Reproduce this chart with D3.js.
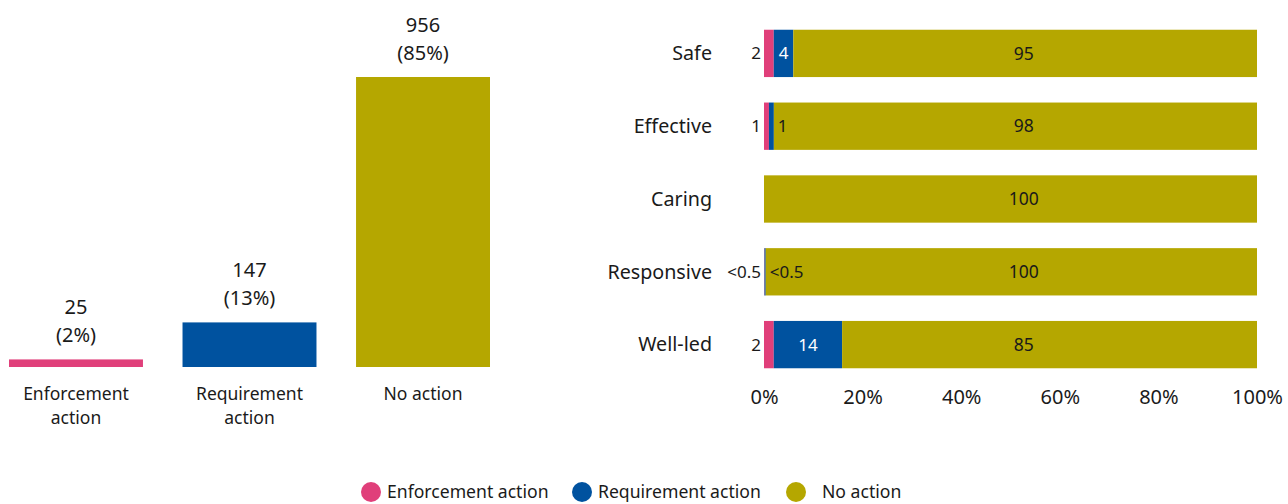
<!DOCTYPE html>
<html>
<head>
<meta charset="utf-8">
<script src="https://cdn.jsdelivr.net/npm/d3@7"></script>
<style>
  body { margin: 0; background: #fff; }
  text { font-family: "Noto Sans", sans-serif; fill: #1a1a1a; }
</style>
</head>
<body>
<div id="chart"></div>
<script>
// Data
const actionLabels = ["Enforcement action", "Requirement action", "No action"];
const actionCounts = [25, 147, 956];
const actionPercents = ["2%", "13%", "85%"];

const domains = ["Safe", "Effective", "Caring", "Responsive", "Well-led"];
const enforcementVals = [2, 1, 0, 0.1, 2];
const requirementVals = [4, 1, 0, 0.25, 14];
const noActionVals = [95, 98, 100, 100, 85];
const enforcementText = ["2", "1", "", "<0.5", "2"];
const requirementText = ["4", "1", "", "<0.5", "14"];
const noActionText = ["95", "98", "100", "100", "85"];
const xTicks = [0, 0.2, 0.4, 0.6, 0.8, 1];

const colors = ["#e03f7a", "#00529f", "#b5a700"];

const svgWidth = 1288;
const svgHeight = 504;

const svg = d3.select("#chart")
    .append("svg")
    .attr("width", svgWidth)
    .attr("height", svgHeight);

// ---- left column chart ----
const xBand = d3.scaleBand()
    .domain(actionLabels)
    .range([9, 490])
    .paddingInner(0.228)
    .paddingOuter(0);

const yCount = d3.scaleLinear()
    .domain([0, 956])
    .range([367, 77]);

const left = svg.append("g");

left.selectAll("rect")
    .data(actionLabels)
    .enter()
    .append("rect")
    .attr("x", d => xBand(d))
    .attr("width", xBand.bandwidth())
    .attr("y", (d, i) => yCount(actionCounts[i]))
    .attr("height", (d, i) => yCount(0) - yCount(actionCounts[i]))
    .attr("fill", (d, i) => colors[i]);

const valueLabels = left.selectAll(".val")
    .data(actionLabels)
    .enter()
    .append("text")
    .attr("class", "val")
    .attr("text-anchor", "middle")
    .attr("font-size", 20);

valueLabels.append("tspan")
    .attr("x", d => xBand(d) + xBand.bandwidth() / 2)
    .attr("y", (d, i) => yCount(actionCounts[i]) - 45)
    .text((d, i) => actionCounts[i]);

valueLabels.append("tspan")
    .attr("x", d => xBand(d) + xBand.bandwidth() / 2)
    .attr("y", (d, i) => yCount(actionCounts[i]) - 17)
    .text((d, i) => `(${actionPercents[i]})`);

// category labels, split on the word "action" where needed
left.selectAll(".cat")
    .data(actionLabels)
    .enter()
    .append("text")
    .attr("class", "cat")
    .attr("text-anchor", "middle")
    .attr("font-size", 17.5)
    .each(function(d) {
        const words = d === "No action" ? [d] : d.split(" ");
        const t = d3.select(this);
        words.forEach((w, j) => {
            t.append("tspan")
                .attr("x", xBand(d) + xBand.bandwidth() / 2)
                .attr("y", 400 + j * 24)
                .text(w);
        });
    });

// ---- right stacked bar chart ----
const xPct = d3.scaleLinear()
    .domain([0, 1])
    .range([764, 1257]);

const yBand = d3.scaleBand()
    .domain(domains)
    .range([17, 381])
    .paddingInner(0.35)
    .paddingOuter(0.175);

const rows = domains.map((d, i) => ({
    domain: d,
    enf: enforcementVals[i],
    req: requirementVals[i],
    no: noActionVals[i]
}));

const stack = d3.stack()
    .keys(["enf", "req", "no"])
    .offset(d3.stackOffsetExpand);
const series = stack(rows);

const right = svg.append("g");

right.selectAll("g.series")
    .data(series)
    .enter()
    .append("g")
    .attr("class", "series")
    .attr("fill", (d, i) => colors[i])
    .selectAll("rect")
    .data(d => d)
    .enter()
    .append("rect")
    .attr("x", d => xPct(d[0]))
    .attr("width", d => xPct(d[1]) - xPct(d[0]))
    .attr("y", d => yBand(d.data.domain))
    .attr("height", yBand.bandwidth());

// domain labels
right.selectAll(".dom")
    .data(domains)
    .enter()
    .append("text")
    .attr("class", "dom")
    .attr("x", 712)
    .attr("y", d => yBand(d) + yBand.bandwidth() / 2)
    .attr("dy", "0.35em")
    .attr("text-anchor", "end")
    .attr("font-size", 19.7)
    .text(d => d);

// enforcement labels sit left of the bar
right.selectAll(".enf")
    .data(domains)
    .enter()
    .append("text")
    .attr("x", xPct(0) - 3)
    .attr("y", d => yBand(d) + yBand.bandwidth() / 2)
    .attr("dy", "0.35em")
    .attr("text-anchor", "end")
    .attr("font-size", 17)
    .text((d, i) => enforcementText[i]);

// requirement labels: inside (white) when the segment is wide, else after it
const reqSeries = series[1];
right.selectAll(".req")
    .data(reqSeries)
    .enter()
    .append("text")
    .each(function(d, i) {
        const w = xPct(d[1]) - xPct(d[0]);
        const t = d3.select(this)
            .attr("y", yBand(d.data.domain) + yBand.bandwidth() / 2)
            .attr("dy", "0.35em")
            .attr("font-size", 17)
            .text(requirementText[i]);
        if (w > 15) {
            t.attr("x", (xPct(d[0]) + xPct(d[1])) / 2)
                .attr("text-anchor", "middle")
                .style("fill", "#fff");
        } else {
            t.attr("x", xPct(d[1]) + 4)
                .attr("text-anchor", "start");
        }
    });

// no action labels
right.selectAll(".no")
    .data(domains)
    .enter()
    .append("text")
    .attr("x", xPct(0.527))
    .attr("y", d => yBand(d) + yBand.bandwidth() / 2)
    .attr("dy", "0.35em")
    .attr("text-anchor", "middle")
    .attr("font-size", 17.5)
    .text((d, i) => noActionText[i]);

// x axis
const xAxis = right.append("g")
    .attr("transform", "translate(0, 385)")
    .call(d3.axisBottom(xPct).tickValues(xTicks).tickFormat(d3.format(".0%")).tickSize(0).tickPadding(5));
xAxis.select(".domain").remove();
xAxis.selectAll("text")
    .attr("font-size", 20)
    .attr("font-family", "Noto Sans, sans-serif")
    .style("fill", "#1a1a1a");

// ---- legend ----
const legendX = [371, 582, 796];
const legendTextX = [387, 598, 822];
const legend = svg.append("g");
actionLabels.forEach((lab, i) => {
    legend.append("circle")
        .attr("cx", legendX[i])
        .attr("cy", 492)
        .attr("r", 10)
        .attr("fill", colors[i]);
    legend.append("text")
        .attr("x", legendTextX[i])
        .attr("y", 492)
        .attr("dy", "0.35em")
        .attr("font-size", 17.6)
        .text(lab);
});
</script>
</body>
</html>
